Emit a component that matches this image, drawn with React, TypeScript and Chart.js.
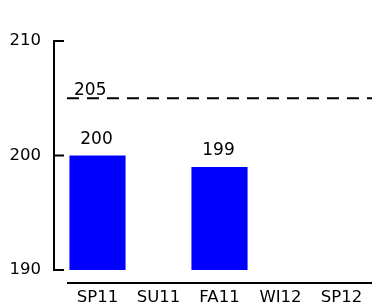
import React, { useEffect, useRef } from "react";
import { Chart, registerables } from "chart.js";

Chart.register(...registerables);

const categories = ["SP11", "SU11", "FA11", "WI12", "SP12"];
const values: (number | null)[] = [200, null, 199, null, null];
const targetValue = 205;
const yTicks = [190, 200, 210];

const FONT = "'DejaVu Sans', Verdana, sans-serif";

const customAxes = {
  id: "customAxes",
  afterDraw(chart: any) {
    const ctx = chart.ctx;
    const ys = chart.scales.y;
    const area = chart.chartArea;
    ctx.save();
    ctx.strokeStyle = "#000";
    ctx.fillStyle = "#000";
    ctx.lineWidth = 2;
    ctx.setLineDash([]);
    // y axis line
    const axisX = area.left - 13;
    ctx.beginPath();
    ctx.moveTo(axisX, ys.getPixelForValue(yTicks[yTicks.length - 1]));
    ctx.lineTo(axisX, ys.getPixelForValue(yTicks[0]));
    ctx.stroke();
    // inward ticks
    yTicks.forEach((t) => {
      const py = ys.getPixelForValue(t);
      ctx.beginPath();
      ctx.moveTo(axisX - 1, py);
      ctx.lineTo(axisX + 10, py);
      ctx.stroke();
    });
    // x axis line
    const axisY = area.bottom + 13;
    ctx.beginPath();
    ctx.moveTo(area.left, axisY);
    ctx.lineTo(area.right, axisY);
    ctx.stroke();
    // target dashed line
    const ty = ys.getPixelForValue(targetValue);
    ctx.setLineDash([12, 8]);
    ctx.beginPath();
    ctx.moveTo(area.left, ty);
    ctx.lineTo(area.right, ty);
    ctx.stroke();
    ctx.setLineDash([]);
    ctx.font = `17px ${FONT}`;
    ctx.textAlign = "left";
    ctx.textBaseline = "alphabetic";
    ctx.fillText(String(targetValue), area.left + 7, ty - 3);
    // bar value labels
    const meta = chart.getDatasetMeta(0);
    ctx.textAlign = "center";
    meta.data.forEach((bar: any, i: number) => {
      const v = values[i];
      if (v == null) return;
      ctx.fillText(String(v), bar.x - 1, bar.y - 12);
    });
    ctx.restore();
  },
};

export default function App() {
  const ref = useRef<HTMLCanvasElement | null>(null);
  useEffect(() => {
    document.body.style.margin = "0";
    if (!ref.current) return;
    const chart = new Chart(ref.current, {
      type: "bar",
      data: {
        labels: categories,
        datasets: [
          {
            data: values,
            backgroundColor: "#0000ff",
            borderWidth: 0,
            barPercentage: 0.92,
            categoryPercentage: 1,
          },
        ],
      },
      options: {
        responsive: false,
        animation: false,
        events: [],
        layout: { padding: { left: 0, top: 41, right: 0, bottom: 0 } },
        plugins: { legend: { display: false }, tooltip: { enabled: false } },
        scales: {
          x: {
            type: "category",
            offset: true,
            grid: { display: false, drawTicks: true, tickLength: 18 },
            border: { display: false },
            ticks: { color: "#000", font: { family: FONT, size: 16.5 }, padding: 0, maxRotation: 0, autoSkip: false },
            afterFit(scale: any) {
              scale.height = 37;
            },
          },
          y: {
            min: 190,
            max: 210,
            grid: { display: false, drawTicks: true, tickLength: 26 },
            border: { display: false },
            ticks: { stepSize: 10, color: "#000", font: { family: FONT, size: 16.5 }, padding: 0 },
            afterFit(scale: any) {
              scale.width = 67;
            },
          },
        },
      },
      plugins: [customAxes],
    });
    return () => chart.destroy();
  }, []);
  return <canvas ref={ref} width={372} height={307} style={{ display: "block" }} />;
}
